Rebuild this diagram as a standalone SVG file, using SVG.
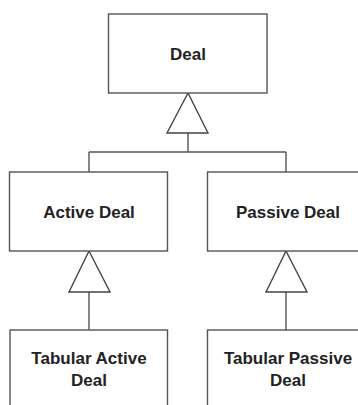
<svg xmlns="http://www.w3.org/2000/svg" width="358" height="405" viewBox="0 0 358 405">
<style>
.box{fill:#fff;stroke:#555;stroke-width:1.4}
.ln{fill:none;stroke:#555;stroke-width:1.4}
.tri{fill:#fff;stroke:#444;stroke-width:1.4}
text{font-family:"Liberation Sans",Arial,sans-serif;font-weight:bold;font-size:17px;fill:#222;text-anchor:middle}
</style>
<rect width="358" height="405" fill="#fff"/>
<g id="connectors">
<path class="ln" d="M188 133 V152 M89 152 H286 M89 152 V172 M286 152 V172"/>
<polygon class="tri" points="188,93 167,133 208,133"/>
<path class="ln" d="M89 292 V330"/>
<polygon class="tri" points="89,251 69,292 110,292"/>
<path class="ln" d="M286 292 V330"/>
<polygon class="tri" points="286,251 266,292 307,292"/>
</g>
<g id="deal">
<rect class="box" x="108.5" y="14" width="158.5" height="79"/>
<text x="188" y="60">Deal</text>
</g>
<g id="active-deal">
<rect class="box" x="9.5" y="172" width="158" height="79"/>
<text x="89" y="218">Active Deal</text>
</g>
<g id="passive-deal">
<rect class="box" x="207.5" y="172" width="158" height="79"/>
<text x="288" y="218">Passive Deal</text>
</g>
<g id="tabular-active-deal">
<rect class="box" x="10" y="330" width="157.5" height="90"/>
<text x="89" y="364">Tabular Active</text>
<text x="89" y="386">Deal</text>
</g>
<g id="tabular-passive-deal">
<rect class="box" x="207.5" y="330" width="158" height="90"/>
<text x="288" y="364">Tabular Passive</text>
<text x="288" y="386">Deal</text>
</g>
</svg>
